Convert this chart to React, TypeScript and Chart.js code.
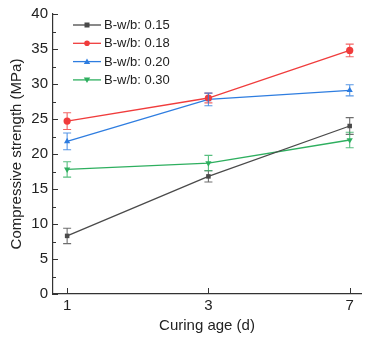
import React, { useEffect, useRef } from "react";
import { Chart, registerables } from "chart.js";

Chart.register(...registerables);

const categories = ["1", "3", "7"];
const seriesLabels = ["B-w/b: 0.15", "B-w/b: 0.18", "B-w/b: 0.20", "B-w/b: 0.30"];
const s015 = [8.3, 16.8, 24.0];
const e015 = [1.1, 0.8, 1.2];
const s018 = [24.7, 28.0, 34.8];
const e018 = [1.2, 0.7, 0.9];
const s020 = [21.8, 27.8, 29.1];
const e020 = [1.2, 0.9, 0.8];
const s030 = [17.8, 18.7, 22.0];
const e030 = [1.1, 1.1, 1.1];
const yTicks = [0, 5, 10, 15, 20, 25, 30, 35, 40];

const colors = ["#4a4a4a", "#f03c3c", "#2e7de0", "#2eaf5f"];
const styles = ["rect", "circle", "triangle", "triangle"];
const rotations = [0, 0, 0, 180];

const FONT = "'Liberation Sans', Arial, sans-serif";

const errorBarPlugin = {
  id: "errorBars",
  afterDatasetsDraw(chart: any) {
    const ctx = chart.ctx;
    const xs = chart.scales.x;
    const ys = chart.scales.y;
    chart.data.datasets.forEach((ds: any) => {
      const errs = ds.errors as number[];
      ctx.save();
      ctx.strokeStyle = ds.borderColor;
      ctx.globalAlpha = 0.8;
      ctx.lineWidth = 1.1;
      ds.data.forEach((p: any, i: number) => {
        const x = xs.getPixelForValue(p.x);
        const y1 = ys.getPixelForValue(p.y - errs[i]);
        const y2 = ys.getPixelForValue(p.y + errs[i]);
        ctx.beginPath();
        ctx.moveTo(x, y1);
        ctx.lineTo(x, y2);
        ctx.moveTo(x - 4, y1);
        ctx.lineTo(x + 4, y1);
        ctx.moveTo(x - 4, y2);
        ctx.lineTo(x + 4, y2);
        ctx.stroke();
      });
      ctx.restore();
    });
  },
};

const ticksPlugin = {
  id: "insideTicks",
  afterDraw(chart: any) {
    const ctx = chart.ctx;
    const xs = chart.scales.x;
    const ys = chart.scales.y;
    const area = chart.chartArea;
    ctx.save();
    ctx.strokeStyle = "#333";
    ctx.lineWidth = 1;
    for (let v = 0; v <= 40; v += 2.5) {
      const y = Math.round(ys.getPixelForValue(v)) + 0.5;
      const len = v % 5 === 0 ? 5 : 3;
      ctx.beginPath();
      ctx.moveTo(area.left, y);
      ctx.lineTo(area.left + len, y);
      ctx.stroke();
    }
    categories.forEach((_, i) => {
      const x = Math.round(xs.getPixelForValue(i)) + 0.5;
      ctx.beginPath();
      ctx.moveTo(x, area.bottom);
      ctx.lineTo(x, area.bottom - 6);
      ctx.stroke();
    });
    // legend
    const lx = 73;
    const ly = 25;
    const dy = 18.3;
    chart.data.datasets.forEach((ds: any, i: number) => {
      const y = ly + i * dy;
      ctx.strokeStyle = ds.borderColor;
      ctx.lineWidth = 1.3;
      ctx.beginPath();
      ctx.moveTo(lx, y);
      ctx.lineTo(lx + 28, y);
      ctx.stroke();
      ctx.fillStyle = ds.borderColor;
      const cx = lx + 14;
      if (i === 0) {
        ctx.fillRect(cx - 2.5, y - 2.5, 5, 5);
      } else if (i === 1) {
        ctx.beginPath();
        ctx.arc(cx, y, 2.8, 0, Math.PI * 2);
        ctx.fill();
      } else if (i === 2) {
        ctx.beginPath();
        ctx.moveTo(cx, y - 3.2);
        ctx.lineTo(cx + 3.2, y + 2.4);
        ctx.lineTo(cx - 3.2, y + 2.4);
        ctx.closePath();
        ctx.fill();
      } else {
        ctx.beginPath();
        ctx.moveTo(cx, y + 3.2);
        ctx.lineTo(cx + 3.2, y - 2.4);
        ctx.lineTo(cx - 3.2, y - 2.4);
        ctx.closePath();
        ctx.fill();
      }
      ctx.fillStyle = "#222";
      ctx.font = `13px ${FONT}`;
      ctx.textBaseline = "middle";
      ctx.textAlign = "left";
      ctx.fillText(ds.label, lx + 31, y + 0.5);
    });
    ctx.restore();
  },
};

export default function App() {
  const ref = useRef<HTMLCanvasElement | null>(null);
  useEffect(() => {
    document.body.style.margin = "0";
    const values = [s015, s018, s020, s030];
    const errs = [e015, e018, e020, e030];
    const chart = new Chart(ref.current as HTMLCanvasElement, {
      type: "line",
      data: {
        datasets: values.map((vals, k) => ({
          label: seriesLabels[k],
          data: vals.map((v, i) => ({ x: i, y: v })),
          errors: errs[k],
          borderColor: colors[k],
          backgroundColor: colors[k],
          borderWidth: 1.3,
          pointStyle: styles[k],
          rotation: rotations[k],
          pointRadius: k === 0 ? 3.2 : 3.6,
          pointBorderWidth: 0,
          tension: 0,
        })) as any,
      },
      options: {
        animation: false,
        responsive: false,
        layout: { padding: { top: 12, left: 0, right: 0, bottom: 0 } },
        plugins: { legend: { display: false }, tooltip: { enabled: false } },
        scales: {
          x: {
            type: "linear",
            min: -0.1,
            max: 2.08,
            afterBuildTicks: (scale: any) => {
              scale.ticks = categories.map((_, i) => ({ value: i }));
            },
            afterFit: (scale: any) => {
              scale.height = 45;
            },
            ticks: {
              callback: (v: any) => categories[v as number],
              font: { family: FONT, size: 15 },
              color: "#222",
              padding: 3,
              maxRotation: 0,
            },
            grid: { drawOnChartArea: false, drawTicks: false },
            border: { display: true, color: "#333", width: 1.2 },
            title: {
              display: true,
              text: "Curing age (d)",
              font: { family: FONT, size: 15 },
              color: "#222",
              padding: { top: 0, bottom: 4 },
            },
          },
          y: {
            min: 0,
            max: 40,
            afterBuildTicks: (scale: any) => {
              scale.ticks = yTicks.map((v) => ({ value: v }));
            },
            afterFit: (scale: any) => {
              scale.width = 53;
            },
            ticks: {
              font: { family: FONT, size: 15 },
              color: "#222",
              padding: 5,
            },
            grid: { drawOnChartArea: false, drawTicks: false },
            border: { display: true, color: "#333", width: 1.2 },
            title: {
              display: true,
              text: "Compressive strength (MPa)",
              font: { family: FONT, size: 15 },
              color: "#222",
              padding: { top: 8, bottom: 0 },
            },
          },
        },
      },
      plugins: [errorBarPlugin, ticksPlugin],
    });
    return () => chart.destroy();
  }, []);
  return <canvas ref={ref} width={365} height={339} style={{ display: "block" }} />;
}
